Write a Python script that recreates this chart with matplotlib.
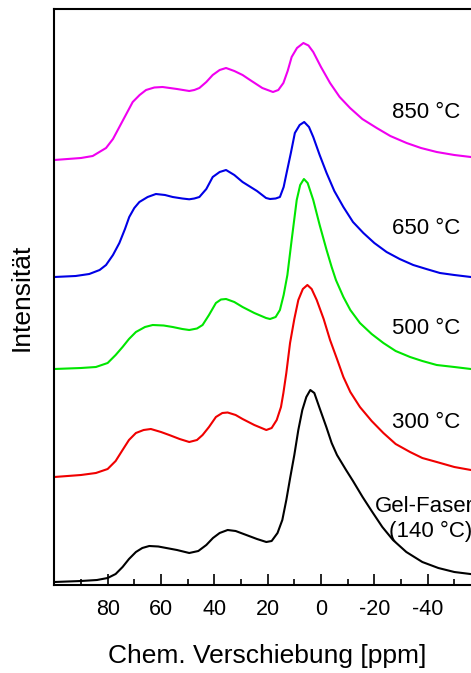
import matplotlib
matplotlib.use("Agg")
import matplotlib.pyplot as plt
from matplotlib.ticker import FixedLocator

plt.rcParams['font.family'] = ['Liberation Sans', 'DejaVu Sans']
plt.rcParams['axes.unicode_minus'] = False

# Chemical shift (ppm) and intensity (arbitrary units, stacked offsets included)
ppm_gel = [100, 90, 84, 80, 77, 74.4, 72, 69.4, 67, 64.4, 61, 58, 54, 49.4, 46, 43, 40.5, 38, 35, 32, 28, 24,
           20.5, 18.5, 16.3, 14.5, 13, 11.5, 10, 8.5, 7, 5.5, 4, 2.5, 0.4, -2, -4, -6, -9.4, -12, -15.6,
           -19, -23, -27, -32, -38, -44, -50, -56, -60]
int_gel = [3, 4, 5, 7, 11, 18, 26, 33, 37, 39, 38.5, 37, 35, 32, 34, 40, 47, 52, 55, 54, 50, 46,
           43, 44, 52, 65, 85, 108, 130, 155, 175, 188, 195, 192, 176, 158, 142, 130, 115, 104, 88,
           74, 58, 45, 33, 23, 17, 13, 11, 10]

ppm_300 = [100, 90, 84.4, 80, 77, 74.4, 72, 69.4, 66.5, 63.8, 60, 56.9, 53, 49.4, 46.5, 44.4, 42, 39.4, 37, 35,
           32, 29.4, 25, 20.5, 18.5, 16.6, 15, 14.1, 13, 11.6, 10, 8.5, 6.8, 5.1, 3.5, 1.6, -1, -3.4, -6,
           -8.4, -11, -14.6, -19, -23.4, -28, -33.4, -38, -43.4, -50, -56.2, -60]
int_300 = [108, 110, 112, 116, 124, 135, 145, 152, 155, 156, 153, 150, 146, 143, 145, 150, 158, 168, 172, 172.5,
           170, 166, 160, 155, 157, 165, 178, 192, 212, 242, 266, 285, 296, 300, 296, 285, 266, 245, 226,
           208, 193, 178, 164, 152, 141, 133, 127, 123, 118, 115, 114]

ppm_500 = [100, 90, 84.4, 80, 77, 74.4, 72, 69.4, 66, 63.1, 59, 55.6, 52, 49.4, 46.5, 44.4, 42, 39.4, 37.5, 35.6,
           32.5, 29.4, 25, 20.6, 19.1, 17, 15.4, 14, 12.6, 11, 9.1, 7.8, 6.4, 5, 2.9, 0.5, -2.1, -4, -5.6,
           -8.4, -11, -14.6, -19, -23.4, -28, -33.4, -38, -43.4, -50, -56.2, -60]
int_500 = [216, 217, 218, 222, 230, 238, 246, 253, 258, 260, 259.5, 258, 256, 255, 256.5, 260, 270, 282, 285.5, 286,
           283, 278, 272, 267, 266, 268, 275, 290, 310, 345, 385, 400, 406, 402, 385, 360, 335, 318, 305,
           288, 275, 262, 251, 242, 234, 228, 224, 220, 218, 216, 215]

ppm_650 = [100, 92, 86.9, 83, 80.6, 78, 75.6, 73.5, 71.9, 70, 68.1, 65, 61.9, 58.5, 55.6, 52, 49.4, 47.5, 45.6,
           43, 40.6, 38, 35.6, 32.5, 29.4, 24, 20.6, 19.1, 17, 15.4, 14, 12.9, 11.3, 9.8, 8, 6.3, 4.5, 2.9,
           0.5, -2.1, -5, -8.4, -12, -15.9, -20, -24.6, -29.5, -34.6, -39.5, -44.6, -50, -56.2, -60]
int_650 = [308, 309, 311, 315, 320, 330, 342, 356, 368, 377, 383, 388, 391, 390, 388, 386.5, 385.7, 386.5, 388,
           396, 408, 413, 415, 410, 403, 394, 387, 386, 386.5, 388, 398, 412, 432, 452, 460, 463, 458, 448,
           430, 412, 394, 378, 363, 352, 342, 333, 326, 320, 316, 312, 310, 308, 307]

ppm_850 = [100, 90, 85.6, 80.6, 78, 75.6, 73, 70.6, 68, 65.6, 62.5, 59.4, 54, 49.4, 47.5, 45.6, 43, 40.6, 38,
           35.6, 32.5, 29.4, 26.6, 22, 18, 16, 14.1, 12.5, 11, 9, 6.6, 4.7, 2.9, 0, -3.4, -7, -10.9, -15.5,
           -20.9, -26, -32.1, -37.5, -43.4, -50, -56.2, -60]
int_850 = [425, 427, 429, 437, 446, 458, 471, 483, 490, 495, 497.5, 498, 496, 494, 495, 497, 503, 510, 515,
           517, 514, 510, 505, 497, 493, 495, 502, 514, 528, 537, 542, 539.5, 533, 518, 502, 488, 477, 466,
           457, 449, 442, 437, 433, 430, 428, 427]

series = [
    (ppm_850, int_850, '#f000f0', '850 °C'),
    (ppm_650, int_650, '#0000e6', '650 °C'),
    (ppm_500, int_500, '#00e600', '500 °C'),
    (ppm_300, int_300, '#f00000', '300 °C'),
    (ppm_gel, int_gel, '#000000', 'Gel-Fasern\n(140 °C)'),
]
label_y = [473, 356, 256, 162.5, 66]

fig = plt.figure(figsize=(4.71, 6.73), dpi=100)
W, H = 471, 673
x0, x1 = 54.3, 481.0
y0, y1 = 585.0, 9.0
ax = fig.add_axes([x0 / W, (H - y0) / H, (x1 - x0) / W, (y0 - y1) / H])

for (xs, ys, c, lab) in series:
    ax.plot(xs, ys, color=c, lw=1.5, solid_joinstyle='round')

for (xs, ys, c, lab), ly in zip(series, label_y):
    if lab.startswith('Gel'):
        ax.text(-41.2, ly, lab, ha='center', va='center', fontsize=16,
                linespacing=1.25)
    else:
        ax.text(-26.6, ly, lab, ha='left', va='center', fontsize=16)

ax.set_xlim(100, -60)
ax.set_ylim(0, 576)
ax.xaxis.set_major_locator(FixedLocator([80, 60, 40, 20, 0, -20, -40]))
ax.xaxis.set_minor_locator(FixedLocator([90, 70, 50, 30, 10, -10, -30, -50]))
ax.set_yticks([])
ax.tick_params(axis='x', which='major', direction='in', length=8, width=1.2,
               labelsize=15.5, pad=10)
ax.tick_params(axis='x', which='minor', direction='in', length=4.5, width=1.2)
for s in ax.spines.values():
    s.set_linewidth(1.5)

ax.set_xlabel('Chem. Verschiebung [ppm]', fontsize=19, labelpad=17.5)
ax.set_ylabel('Intensität', fontsize=19, labelpad=15)

fig.savefig('out.png', dpi=100)
